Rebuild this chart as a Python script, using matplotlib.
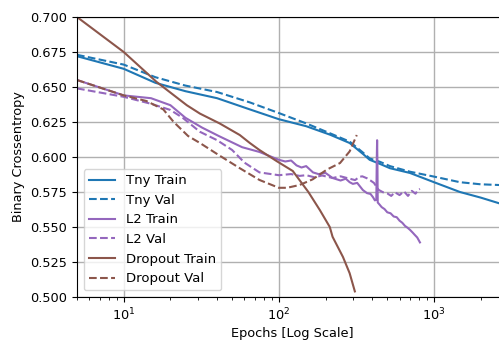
import numpy as np
import matplotlib
matplotlib.use("Agg")
import matplotlib.pyplot as plt

# values
tiny_ep = [5, 10, 16, 25, 40, 65, 100, 150, 213, 286, 350, 385, 450, 520, 700, 1000, 1470, 2000, 2620, 3000]
tiny_train = [0.672, 0.663, 0.653, 0.647, 0.642, 0.634, 0.627, 0.622, 0.616, 0.610, 0.602, 0.598, 0.595,
              0.592, 0.5886, 0.582, 0.575, 0.571, 0.567, 0.565]
tiny_val = [0.673, 0.666, 0.657, 0.651, 0.6464, 0.639, 0.6314, 0.624, 0.617, 0.611, 0.603, 0.599, 0.5965,
            0.5935, 0.5895, 0.586, 0.582, 0.5805, 0.580, 0.579]

l2_train_ep = [5, 10, 15, 20, 25, 32, 41, 58, 75, 100, 110, 120, 130, 140, 150, 166, 180, 200, 222, 250,
               270, 286, 300, 320, 348, 370, 390, 405, 416, 425, 428, 430, 432, 434, 446, 460, 480, 500,
               525, 550, 575, 600, 625, 650, 675, 700, 729, 750, 780, 812]
l2_train = [0.655, 0.644, 0.642, 0.637, 0.628, 0.621, 0.615, 0.607, 0.6036, 0.598, 0.5968, 0.5975, 0.594,
            0.5925, 0.5935, 0.589, 0.5878, 0.5886, 0.585, 0.5832, 0.5845, 0.582, 0.5808, 0.5815, 0.5764,
            0.5742, 0.5736, 0.5712, 0.569, 0.5695, 0.600, 0.612, 0.596, 0.5675, 0.566, 0.5642, 0.5628,
            0.5605, 0.5598, 0.5575, 0.557, 0.5545, 0.553, 0.5508, 0.5495, 0.548, 0.546, 0.5445, 0.5425,
            0.539]

l2_val_ep = [5, 10, 15, 20, 24, 31, 40, 50, 60, 75, 100, 120, 136, 150, 170, 190, 222, 250, 286, 310,
             330, 345, 370, 390, 410, 440, 470, 500, 530, 560, 600, 640, 680, 720, 760, 790, 812]
l2_val = [0.649, 0.643, 0.638, 0.6336, 0.628, 0.618, 0.612, 0.605, 0.596, 0.589, 0.587, 0.5878, 0.5865,
          0.587, 0.5855, 0.5868, 0.585, 0.5862, 0.5845, 0.5835, 0.5858, 0.5862, 0.5848, 0.5832, 0.5815,
          0.5765, 0.5748, 0.574, 0.5722, 0.5748, 0.5728, 0.5755, 0.5722, 0.5758, 0.5738, 0.5765, 0.5772]

drop_train_ep = [5, 10, 16.3, 25.5, 31, 41.5, 56, 65, 75, 97, 123, 155, 184, 213, 222, 259, 286, 309]
drop_train = [0.700, 0.675, 0.6536, 0.637, 0.631, 0.624, 0.6157, 0.610, 0.605, 0.597, 0.590, 0.575,
              0.562, 0.550, 0.543, 0.5286, 0.517, 0.504]

drop_val_ep = [5, 10, 14, 18, 21, 26, 31, 41.5, 56, 75, 100, 113, 136, 165, 204, 248, 286, 318]
drop_val = [0.655, 0.644, 0.640, 0.634, 0.625, 0.615, 0.610, 0.601, 0.592, 0.5836, 0.578, 0.578, 0.580,
            0.584, 0.591, 0.5957, 0.604, 0.6157]

c_tiny = '#1f77b4'
c_l2 = '#9467bd'
c_drop = '#8c564b'

fig = plt.figure(figsize=(4.99, 3.43), dpi=100)
ax = fig.add_axes([77 / 499, 1 - 297 / 343, 431 / 499, 280 / 343])

ax.plot(tiny_ep, tiny_train, color=c_tiny, lw=1.5, label='Tny Train')
ax.plot(tiny_ep, tiny_val, '--', color=c_tiny, lw=1.5, label='Tny Val')
ax.plot(l2_train_ep, l2_train, color=c_l2, lw=1.5, label='L2 Train')
ax.plot(l2_val_ep, l2_val, '--', color=c_l2, lw=1.5, label='L2 Val')
ax.plot(drop_train_ep, drop_train, color=c_drop, lw=1.5, label='Dropout Train')
ax.plot(drop_val_ep, drop_val, '--', color=c_drop, lw=1.5, label='Dropout Val')

ax.set_xscale('log')
ax.set_xlim(5, 3000)
ax.set_ylim(0.5, 0.7)
ax.set_yticks(np.arange(0.5, 0.7001, 0.025))
ax.yaxis.set_major_formatter(matplotlib.ticker.FormatStrFormatter('%.3f'))
ax.grid(True, color='#b0b0b0', lw=1.0)
ax.tick_params(labelsize=9.3)
ax.set_xlabel('Epochs [Log Scale]', fontsize=9.3, labelpad=3)
ax.set_ylabel('Binary Crossentropy', fontsize=9.3)
ax.legend(loc='lower left', fontsize=9.5)

plt.savefig('out.png', dpi=100)
